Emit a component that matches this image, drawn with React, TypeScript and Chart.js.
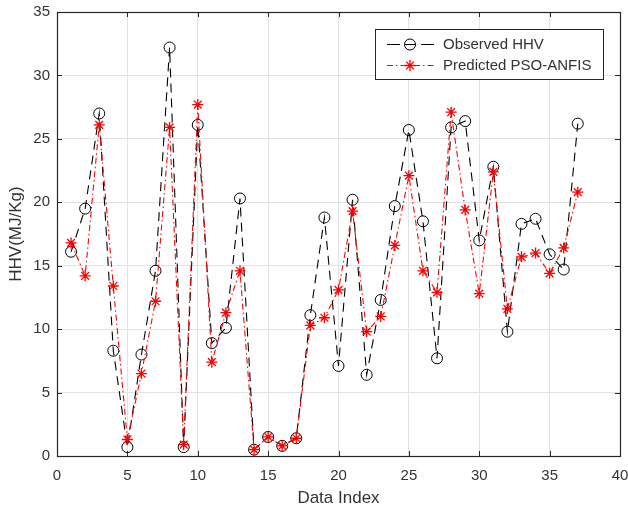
import React, { useEffect, useRef } from "react";
import { Chart, registerables } from "chart.js";

Chart.register(...registerables);

const dataIndex = [
  1, 2, 3, 4, 5, 6, 7, 8, 9, 10, 11, 12, 13, 14, 15, 16, 17, 18, 19, 20, 21,
  22, 23, 24, 25, 26, 27, 28, 29, 30, 31, 32, 33, 34, 35, 36, 37,
];
const observedHHV = [
  16.1, 19.5, 27.0, 8.3, 0.7, 8.0, 14.6, 32.2, 0.7, 26.1, 8.9, 10.1, 20.3, 0.5,
  1.5, 0.8, 1.4, 11.1, 18.8, 7.1, 20.2, 6.4, 12.3, 19.7, 25.7, 18.5, 7.7, 25.9,
  26.4, 17.0, 22.8, 9.8, 18.3, 18.7, 15.9, 14.7, 26.2,
];
const predictedPSOANFIS = [
  16.8, 14.2, 26.1, 13.4, 1.3, 6.5, 12.2, 25.9, 0.9, 27.7, 7.4, 11.3, 14.6, 0.5,
  1.5, 0.8, 1.4, 10.3, 10.9, 13.1, 19.3, 9.8, 11.0, 16.6, 22.1, 14.6, 12.9,
  27.1, 19.4, 12.8, 22.4, 11.6, 15.7, 16.0, 14.4, 16.4, 20.8,
];
const xTicks = [0, 5, 10, 15, 20, 25, 30, 35, 40];
const yTicks = [0, 5, 10, 15, 20, 25, 30, 35];
const seriesLabels = ["Observed HHV", "Predicted PSO-ANFIS"];

const FONT = "'Liberation Sans', Arial, Helvetica, sans-serif";
const AXIS = "#262626";
const TEXT = "#333333";
const GRID = "#e2e2e2";

function drawStar(ctx: CanvasRenderingContext2D, x: number, y: number, r: number) {
  ctx.beginPath();
  ctx.moveTo(x - r, y);
  ctx.lineTo(x + r, y);
  ctx.moveTo(x, y - r);
  ctx.lineTo(x, y + r);
  const d = r * Math.SQRT1_2;
  ctx.moveTo(x - d, y - d);
  ctx.lineTo(x + d, y + d);
  ctx.moveTo(x - d, y + d);
  ctx.lineTo(x + d, y - d);
  ctx.stroke();
}

const framePlugin = {
  id: "matlabFrame",
  afterDraw(chart: any) {
    const ctx: CanvasRenderingContext2D = chart.ctx;
    const { left, right, top, bottom } = chart.chartArea;
    const xs = chart.scales.x;
    const ys = chart.scales.y;
    ctx.save();
    ctx.strokeStyle = AXIS;
    ctx.lineWidth = 1;
    ctx.setLineDash([]);
    // ticks inward
    ctx.beginPath();
    const tl = 5;
    xTicks.forEach((t) => {
      const px = Math.round(xs.getPixelForValue(t)) + 0.5;
      ctx.moveTo(px, bottom);
      ctx.lineTo(px, bottom - tl);
      ctx.moveTo(px, top);
      ctx.lineTo(px, top + tl);
    });
    yTicks.forEach((t) => {
      const py = Math.round(ys.getPixelForValue(t)) + 0.5;
      ctx.moveTo(left, py);
      ctx.lineTo(left + tl, py);
      ctx.moveTo(right, py);
      ctx.lineTo(right - tl, py);
    });
    ctx.stroke();
    // box
    ctx.strokeStyle = AXIS;
    ctx.lineWidth = 1.2;
    ctx.strokeRect(Math.round(left) + 0.5, Math.round(top) + 0.5, Math.round(right - left), Math.round(bottom - top));

    // legend
    const lx = 375.5, ly = 29.5, lw = 228, lh = 50;
    ctx.fillStyle = "#ffffff";
    ctx.fillRect(lx, ly, lw, lh);
    ctx.lineWidth = 1;
    ctx.strokeStyle = AXIS;
    ctx.strokeRect(lx, ly, lw, lh);

    const rows = [44, 65];
    // row 1
    ctx.strokeStyle = "#000000";
    ctx.lineWidth = 1;
    ctx.beginPath();
    ctx.moveTo(387, rows[0] + 0.5);
    ctx.lineTo(400, rows[0] + 0.5);
    ctx.moveTo(421, rows[0] + 0.5);
    ctx.lineTo(434, rows[0] + 0.5);
    ctx.moveTo(405, rows[0] + 0.5);
    ctx.lineTo(416, rows[0] + 0.5);
    ctx.stroke();
    ctx.beginPath();
    ctx.arc(410, rows[0] + 0.5, 5.5, 0, Math.PI * 2);
    ctx.stroke();
    // row 2
    ctx.strokeStyle = "#ff0000";
    ctx.beginPath();
    ctx.setLineDash([6, 3, 1.5, 3]);
    ctx.moveTo(387, rows[1] + 0.5);
    ctx.lineTo(436, rows[1] + 0.5);
    ctx.stroke();
    ctx.setLineDash([]);
    ctx.lineWidth = 1.3;
    drawStar(ctx, 410, rows[1] + 0.5, 5.5);

    ctx.fillStyle = TEXT;
    ctx.font = `15px ${FONT}`;
    ctx.textBaseline = "middle";
    ctx.textAlign = "left";
    ctx.fillText(seriesLabels[0], 443, rows[0] + 1);
    ctx.fillText(seriesLabels[1], 443, rows[1] + 1);
    ctx.restore();
  },
};

export default function App() {
  const ref = useRef<HTMLCanvasElement | null>(null);
  useEffect(() => {
    if (!ref.current) return;
    const chart = new Chart(ref.current, {
      type: "line",
      data: {
        datasets: [
          {
            label: seriesLabels[0],
            data: dataIndex.map((x, i) => ({ x, y: observedHHV[i] })),
            borderColor: "#000000",
            borderWidth: 1.1,
            borderDash: [9, 6],
            pointStyle: "circle",
            pointRadius: 5.5,
            pointBorderWidth: 1,
            pointBorderColor: "#000000",
            pointBackgroundColor: "rgba(0,0,0,0)",
            fill: false,
            tension: 0,
            order: 2,
          },
          {
            label: seriesLabels[1],
            data: dataIndex.map((x, i) => ({ x, y: predictedPSOANFIS[i] })),
            borderColor: "#ff0000",
            borderWidth: 1.1,
            borderDash: [6, 3, 1.5, 3],
            pointStyle: "star",
            pointRadius: 5.5,
            pointBorderWidth: 1.3,
            pointBorderColor: "#ff0000",
            pointBackgroundColor: "#ff0000",
            fill: false,
            tension: 0,
            order: 1,
          },
        ],
      },
      options: {
        animation: false,
        responsive: true,
        maintainAspectRatio: false,
        layout: { padding: { top: 12, right: 8, left: 0, bottom: 0 } },
        plugins: { legend: { display: false }, tooltip: { enabled: false } },
        scales: {
          x: {
            type: "linear",
            min: 0,
            max: 40,
            afterBuildTicks: (s: any) => {
              s.ticks = xTicks.map((v) => ({ value: v }));
            },
            afterFit: (s: any) => {
              s.height = 57;
              s.paddingLeft = 0;
              s.paddingRight = 0;
            },
            ticks: {
              color: TEXT,
              font: { family: FONT, size: 15 },
              padding: 11,
              maxRotation: 0,
            },
            grid: { color: GRID, drawTicks: false, lineWidth: 1 },
            border: { display: false },
            title: {
              display: true,
              text: "Data Index",
              color: TEXT,
              font: { family: FONT, size: 17 },
              padding: { top: 4, bottom: 4 },
            },
          },
          y: {
            type: "linear",
            min: 0,
            max: 35,
            afterBuildTicks: (s: any) => {
              s.ticks = yTicks.map((v) => ({ value: v }));
            },
            afterFit: (s: any) => {
              s.width = 57;
              s.paddingTop = 0;
              s.paddingBottom = 0;
            },
            ticks: {
              color: TEXT,
              font: { family: FONT, size: 15 },
              padding: 7,
            },
            grid: { color: GRID, drawTicks: false, lineWidth: 1 },
            border: { display: false },
            title: {
              display: true,
              text: "HHV(MJ/Kg)",
              color: TEXT,
              font: { family: FONT, size: 17 },
              padding: { top: 6, bottom: 6 },
            },
          },
        },
      },
      plugins: [framePlugin],
    });
    return () => chart.destroy();
  }, []);
  return (
    <div style={{ position: "fixed", left: 0, top: 0, width: 628, height: 513, background: "#fff" }}>
      <canvas ref={ref} />
    </div>
  );
}
